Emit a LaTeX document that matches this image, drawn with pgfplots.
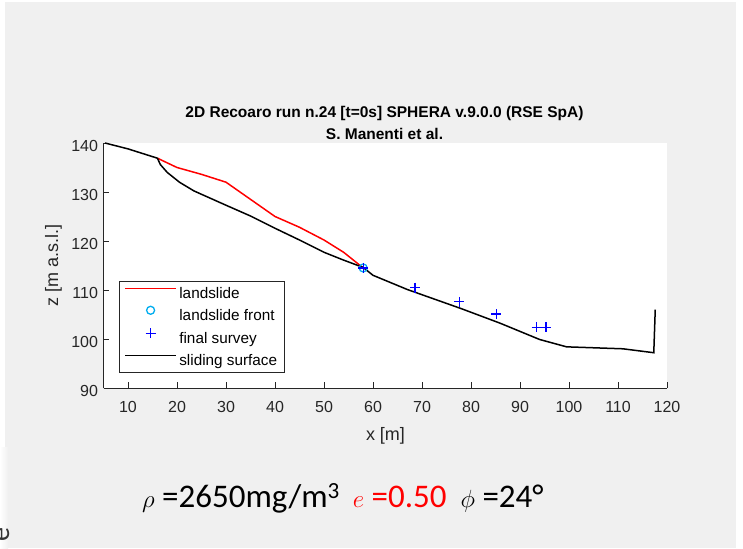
\documentclass[border=0pt]{standalone}
\usepackage{pgfplots}
\pgfplotsset{compat=1.18}
\usepackage{fontspec}
\setmainfont{Liberation Sans}
\newfontfamily\carlito{Carlito}
\definecolor{figgray}{RGB}{240,240,240}
\definecolor{axgray}{RGB}{38,38,38}
\pgfplotsset{
  lineleg/.style={legend image code/.code={\draw[##1] (0pt,5pt) -- (51pt,5pt);}},
  markleg/.style={legend image code/.code={\draw[mark repeat=2,mark phase=2,##1] plot coordinates {(0pt,5pt) (25.5pt,5pt) (51pt,5pt)};}},
}
\begin{document}
\begin{tikzpicture}[x=1pt,y=1pt]
\useasboundingbox (0,0) rectangle (743,548);
\fill[white] (0,0) rectangle (743,548);
\fill[figgray] (5,0) rectangle (736,546);
\shade[left color=white, right color=figgray] (0,0) rectangle (8,100);
\begin{axis}[
  at={(103.5pt,160pt)}, anchor=south west,
  scale only axis, width=563.5pt, height=245pt,
  xmin=5, xmax=120, ymin=90, ymax=140,
  axis lines=left,
  axis line style={-, axgray, line width=0.7pt},
  tick style={axgray, line width=0.7pt},
  major tick length=5.5pt, tick align=inside,
  xtick={10,20,...,120}, ytick={90,100,...,140},
  tick label style={font=\fontsize{16}{19}\selectfont, text=axgray},
  /pgf/number format/assume math mode=true,
  xticklabel style={anchor=base, yshift=-25pt},
  yticklabel style={anchor=east, xshift=-2pt, yshift=-2.5pt},
  axis background/.style={fill=white},
  clip=false,
  legend cell align=left,
  legend style={at={(0.0275,0.437)}, anchor=north west, draw=axgray, line width=0.7pt, fill=white,
    font=\fontsize{15.3}{18}\selectfont, inner xsep=5pt, inner ysep=3pt, row sep=4pt,
    nodes={inner xsep=2.5pt, inner ysep=1pt, text height=13pt, text depth=3pt}},
]
\addplot[red, line width=1.5pt, lineleg] coordinates {
(16,136.9) (20,135) (25,133.6) (30,132) (35,128.5) (40,125) (45,122.8) (50,120.2) (54,117.7) (58,114.5)};
\addlegendentry{landslide}
\addplot[only marks, mark=o, color=cyan, mark size=4pt, mark options={draw=cyan, line width=1.3pt}, markleg] coordinates {(58,114.5)};
\addlegendentry{landslide front}
\addplot[only marks, mark=+, color=blue, mark size=5pt, mark options={draw=blue, line width=1.3pt}, markleg] coordinates {
(58,114.5) (68.6,110.5) (77.6,107.6) (85.2,105.1) (93.4,102.4) (95.3,102.4)};
\addlegendentry{final survey}
\addplot[black, line width=1.5pt, lineleg] coordinates {
(5.3,140) (10,138.8) (16,136.9) (16.6,135.6) (18,134) (20.5,132) (23.5,130.2) (30,127.3) (35,125.1) (40,122.6) (45,120.2) (50,117.7) (54,116.1) (58,114.6) (60,113) (67,110.1) (78,106.2) (86,103.2) (94,99.9) (99.5,98.4) (111,98) (117.3,97.2) (117.6,106)};
\addlegendentry{sliding surface}
\end{axis}
\node[anchor=base, font=\bfseries\fontsize{15.5}{18}\selectfont] at (384.5,430) {2D Recoaro run n.24 [t=0s] SPHERA v.9.0.0 (RSE SpA)};
\node[anchor=base, font=\bfseries\fontsize{15.5}{18}\selectfont] at (384.5,408) {S. Manenti et al.};
\node[anchor=base, font=\fontsize{18}{21}\selectfont, text=axgray] at (385.5,107) {x [m]};
\node[anchor=base, rotate=90, font=\fontsize{18}{21}\selectfont, text=axgray] at (58,282.5) {z [m a.s.l.]};
\node[anchor=base west, inner sep=0pt, font=\carlito\fontsize{33}{38}\selectfont] at (142,40) {$\rho$ =2650mg/m\textsuperscript{3}\hspace{13pt}{\color{red}$e$ =0.50}\hspace{14pt}$\phi$ =24°};
\node[anchor=base west, inner sep=0pt, rotate=90, font=\carlito\fontsize{28}{32}\selectfont, text=black!80] at (9,6) {e};
\end{tikzpicture}
\end{document}
